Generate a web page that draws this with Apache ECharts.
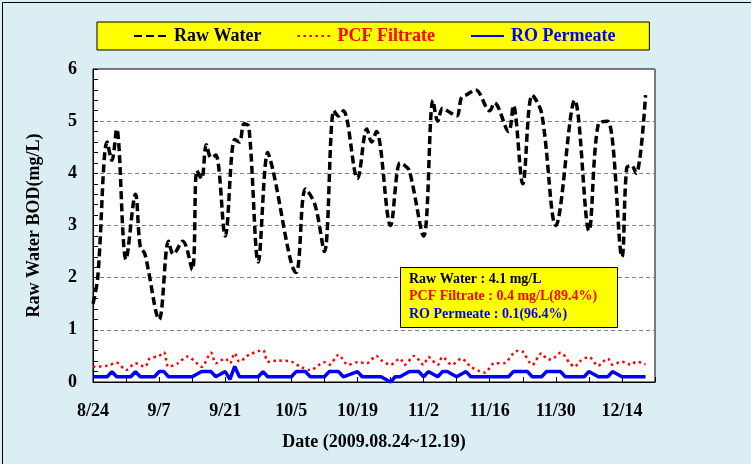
<!DOCTYPE html>
<html>
<head>
<meta charset="utf-8">
<script src="https://cdn.jsdelivr.net/npm/echarts@6/dist/echarts.min.js"></script>
<style>
html,body{margin:0;padding:0;background:#fff;}
#chart{width:751px;height:464px;}
</style>
</head>
<body>
<div id="chart"></div>
<script>
// Days counted from 2009-08-24
const dateLabels = ['8/24','9/7','9/21','10/5','10/19','11/2','11/16','11/30','12/14'];

const rawDay = [0,1,3,4,5,7,9,10,11,14,16,17,19,21,22,23,24,25,26,28,30,31,32,33,35,37,38,43,45,47,49,51,52,53,56,58,59,60,63,65,66,67,70,72,73,74,75,77,78,79,81,84,85,88,89,91,93,95,98,102,105,107,109,112,113,114,115,117];
const rawBOD = [1.5,2.0,4.6,4.25,4.85,2.35,3.6,2.6,2.45,1.2,2.7,2.45,2.7,2.15,4.05,3.9,4.55,4.3,4.35,2.8,4.65,4.6,4.95,4.9,2.3,4.4,4.1,2.1,3.7,3.4,2.5,5.2,5.1,5.2,3.9,4.85,4.6,4.8,3.0,4.2,4.15,4.05,2.8,5.4,5.0,5.25,5.2,5.1,5.45,5.5,5.6,5.2,5.35,4.8,5.3,3.8,5.5,5.15,3.0,5.4,2.9,4.95,5.0,2.4,4.1,4.15,4.0,5.5];

const pcfDay = [0,3,5,7,9,11,12,14,15,16,18,20,22,23,25,26,28,29,30,31,33,36,37,39,42,44,46,49,50,52,54,56,58,60,61,63,65,66,68,70,71,73,74,76,78,80,82,83,85,87,89,90,91,93,95,96,97,99,101,102,103,105,107,108,109,110,112,114,115,117];
const pcfBOD = [0.29,0.31,0.37,0.23,0.36,0.29,0.45,0.5,0.57,0.29,0.36,0.49,0.36,0.29,0.56,0.36,0.45,0.36,0.55,0.39,0.52,0.61,0.39,0.41,0.39,0.29,0.23,0.38,0.33,0.52,0.33,0.38,0.36,0.5,0.42,0.33,0.45,0.33,0.5,0.33,0.48,0.33,0.48,0.33,0.45,0.29,0.2,0.18,0.36,0.36,0.55,0.6,0.58,0.33,0.55,0.45,0.43,0.56,0.36,0.29,0.39,0.48,0.31,0.39,0.45,0.33,0.39,0.33,0.39,0.34];

const roDay = [0,3,4,5,8,9,10,13,14,15,16,21,23,25,26,28,29,30,31,35,36,37,42,43,45,46,49,50,52,53,56,57,61,63,64,65,67,69,70,71,73,74,75,77,79,80,88,89,92,93,95,96,99,100,104,105,107,109,110,112,117];
const roBOD = [0.1,0.1,0.2,0.1,0.1,0.2,0.1,0.1,0.2,0.2,0.1,0.1,0.2,0.2,0.1,0.2,0.05,0.3,0.1,0.1,0.2,0.1,0.1,0.2,0.2,0.1,0.1,0.2,0.2,0.1,0.2,0.1,0.1,0.0,0.1,0.1,0.2,0.2,0.1,0.2,0.1,0.2,0.2,0.1,0.2,0.1,0.1,0.2,0.2,0.1,0.1,0.2,0.2,0.1,0.1,0.2,0.1,0.1,0.2,0.1,0.1];

const seriesNames = ['Raw Water','PCF Filtrate','RO Permeate'];
const summaryLines = ['Raw Water : 4.1 mg/L','PCF Filtrate : 0.4 mg/L(89.4%)','RO Permeate : 0.1(96.4%)'];

const FONT = '"Liberation Serif","Times New Roman",serif';
const pair = (xs, ys) => xs.map((d, i) => [d, ys[i]]);

const chart = echarts.init(document.getElementById('chart'), null, {renderer: 'canvas'});
chart.setOption({
  backgroundColor: '#DAEEF3',
  animation: false,
  textStyle: {fontFamily: FONT},
  grid: {left: 93, top: 69, right: 96, bottom: 82, show: true, backgroundColor: '#fff', borderColor: '#000', borderWidth: 1},
  legend: {
    left: 97, top: 22,
    padding: [5, 34, 5, 36],
    itemGap: 35, itemWidth: 33, itemHeight: 14,
    backgroundColor: '#FFFF00', borderColor: '#000', borderWidth: 1,
    itemStyle: {opacity: 0},
    textStyle: {fontFamily: FONT, fontWeight: 'bold', fontSize: 18, padding: [2, 0, 0, 2]},
    data: [
      {name: seriesNames[0], textStyle: {color: '#000'}},
      {name: seriesNames[1], textStyle: {color: '#FF0000'}},
      {name: seriesNames[2], textStyle: {color: '#0000FF'}}
    ]
  },
  xAxis: {
    type: 'value', min: 0, max: 119, interval: 7,
    name: 'Date (2009.08.24~12.19)', nameLocation: 'middle', nameGap: 51,
    nameTextStyle: {fontFamily: FONT, fontWeight: 'bold', fontSize: 18, color: '#000'},
    axisLine: {show: true, lineStyle: {color: '#000', width: 1}},
    axisTick: {show: true, inside: true, length: 5, lineStyle: {color: '#000'}},
    axisLabel: {
      margin: 20, fontFamily: FONT, fontWeight: 'bold', fontSize: 18, color: '#000',
      formatter: v => (v % 14 === 0 && dateLabels[v / 14]) ? dateLabels[v / 14] : ''
    },
    splitLine: {show: false}
  },
  yAxis: {
    type: 'value', min: 0, max: 6, interval: 1,
    name: 'Raw Water BOD(mg/L)', nameLocation: 'middle', nameGap: 50,
    nameTextStyle: {fontFamily: FONT, fontWeight: 'bold', fontSize: 18, color: '#000'},
    axisLine: {show: true, lineStyle: {color: '#000', width: 1}},
    axisTick: {show: true, inside: true, length: 5, lineStyle: {color: '#000'}},
    minorTick: {show: true, splitNumber: 5, length: 5, lineStyle: {color: '#000'}},
    axisLabel: {margin: 16, fontFamily: FONT, fontWeight: 'bold', fontSize: 18, color: '#000'},
    splitLine: {show: true, lineStyle: {color: '#808080', type: [4, 3], width: 1}}
  },
  series: [
    {
      name: seriesNames[0], type: 'line', data: pair(rawDay, rawBOD),
      smooth: 0.35, symbol: 'none', z: 3,
      lineStyle: {color: '#000', width: 3.5, type: [8, 4]},
      itemStyle: {color: '#000'}
    },
    {
      name: seriesNames[1], type: 'line', data: pair(pcfDay, pcfBOD),
      smooth: 0.3, symbol: 'none', z: 2,
      lineStyle: {color: '#FF0000', width: 2.5, type: [2.5, 3.5]},
      itemStyle: {color: '#FF0000'}
    },
    {
      name: seriesNames[2], type: 'line', data: pair(roDay, roBOD),
      smooth: false, symbol: 'none', z: 2,
      lineStyle: {color: '#0000FF', width: 3.5},
      itemStyle: {color: '#0000FF'}
    }
  ],
  graphic: [
    {type: 'rect', left: 0, top: 0, shape: {x: 0.5, y: 0.5, width: 750, height: 463},
     style: {fill: 'none', stroke: '#000', lineWidth: 1}, silent: true, z: 100},
    {type: 'rect', left: 400, top: 267, z: 50,
     shape: {width: 217, height: 60}, style: {fill: '#FFFF00', stroke: '#000', lineWidth: 1}},
    {type: 'text', left: 409, top: 272, z: 51,
     style: {
       text: '{a|' + summaryLines[0] + '}\n{b|' + summaryLines[1] + '}\n{c|' + summaryLines[2] + '}',
       rich: {
         a: {fontFamily: FONT, fontWeight: 'bold', fontSize: 14, lineHeight: 17.5, fill: '#000'},
         b: {fontFamily: FONT, fontWeight: 'bold', fontSize: 14, lineHeight: 17.5, fill: '#FF0000'},
         c: {fontFamily: FONT, fontWeight: 'bold', fontSize: 14, lineHeight: 17.5, fill: '#0000FF'}
       }
     }}
  ]
});
</script>
</body>
</html>
